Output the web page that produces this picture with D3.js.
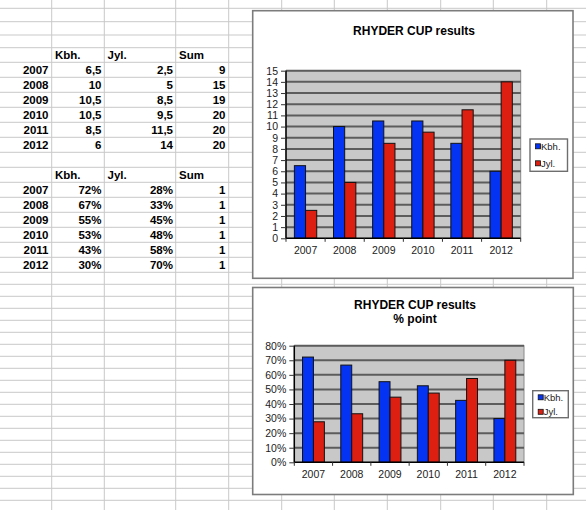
<!DOCTYPE html>
<html>
<head>
<meta charset="utf-8">
<script src="https://cdn.jsdelivr.net/npm/d3@7"></script>
<style>
  body { margin: 0; background: #fff; }
  svg { display: block; font-family: Arial, "Liberation Sans", sans-serif; }
</style>
</head>
<body>
<svg id="sheet" width="586" height="510"></svg>
<script>
// data
const years   = ['2007', '2008', '2009', '2010', '2011', '2012']
const series  = ['Kbh.', 'Jyl.']
const kbh     = [6.5, 10, 10.5, 10.5, 8.5, 6]
const jyl     = [2.5, 5, 8.5, 9.5, 11.5, 14]
const sums    = [9, 15, 19, 20, 20, 20]
const kbhPct  = [72.2, 66.7, 55.3, 52.5, 42.5, 30.0]
const jylPct  = [27.8, 33.3, 44.7, 47.5, 57.5, 70.0]
const pctSums = [1, 1, 1, 1, 1, 1]
const countTicks = d3.range(0, 16)
const pctTicks   = [0, 0.1, 0.2, 0.3, 0.4, 0.5, 0.6, 0.7, 0.8]

const colors = { 'Kbh.': '#0433f4', 'Jyl.': '#dc1f10' }

const svg = d3.select('#sheet')

// spreadsheet grid
const colEdges = [51.7, 104.3, 175.7, 228.7, 281.7, 334.3, 387.3, 440.7, 493.3, 546.7]
let rowEdges = [8.3, 21.7, 35, 47.7]
for (let y = 62.3; y <= 272.4; y += 15) rowEdges.push(y)
for (let y = 284.3; y < 510; y += 12) rowEdges.push(y)

const grid = svg.append('g').attr('stroke', '#c9c9c9').attr('stroke-width', 1)
grid.selectAll('line.h').data(rowEdges).join('line')
    .attr('x1', 0).attr('x2', 586).attr('y1', d => d).attr('y2', d => d)
grid.selectAll('line.v').data(colEdges).join('line')
    .attr('y1', 0).attr('y2', 510).attr('x1', d => d).attr('x2', d => d)

// tables
function drawTable(top, colA, colB, colC, fmt){
    const g = svg.append('g').attr('font-weight', 'bold').attr('font-size', 11.5).attr('fill', '#000')
    const heads = [['Kbh.', 55], ['Jyl.', 107.5], ['Sum', 179]]
    heads.forEach(h => g.append('text').attr('x', h[1]).attr('y', top + 11.6).text(h[0]))

    years.forEach((yr, i) => {
        const base = top + 14.6 + 15 * i + 11.7
        const row = [[yr, 48.5], [fmt(colA[i]), 101.5], [fmt(colB[i]), 173], [colC[i], 225.5]]
        row.forEach(c => g.append('text').attr('x', c[1]).attr('y', base)
            .attr('text-anchor', 'end').text(c[0]))
    })
}
drawTable(47.7, kbh, jyl, sums, v => String(v).replace('.', ','))
drawTable(167.3, kbhPct, jylPct, pctSums, v => Math.round(v) + '%')

// charts
function drawChart(opt){
    const g = svg.append('g')

    g.append('rect')
        .attr('x', opt.frame[0]).attr('y', opt.frame[1])
        .attr('width', opt.frame[2] - opt.frame[0]).attr('height', opt.frame[3] - opt.frame[1])
        .attr('fill', '#fff').attr('stroke', '#7c7c7c').attr('stroke-width', 1.6)

    opt.title.forEach((t, i) => {
        g.append('text').attr('x', opt.titleX).attr('y', opt.titleY + i * 13.3)
            .attr('text-anchor', 'middle').attr('font-weight', 'bold').attr('font-size', 12)
            .text(t)
    })

    const [l, t, r, b] = opt.plot
    const y = d3.scaleLinear().domain(opt.domain).range([b, t])
    const x0 = d3.scaleBand().domain(years).range([l, r])
    const x1 = d3.scaleBand().domain(series).range([0, x0.bandwidth()])
        .paddingInner(0).paddingOuter(0.75)

    g.append('rect').attr('x', l).attr('y', t).attr('width', r - l).attr('height', b - t)
        .attr('fill', '#c8c8c8').attr('stroke', '#8a8a8a').attr('stroke-width', 1)

    g.append('g').selectAll('line').data(opt.ticks.slice(1)).join('line')
        .attr('x1', l).attr('x2', r).attr('y1', d => y(d)).attr('y2', d => y(d))
        .attr('stroke', '#5c5c5c').attr('stroke-width', 2)

    const rows = years.map((yr, i) => ({ yr, vals: [opt.a[i], opt.b[i]] }))
    g.append('g').selectAll('g').data(rows).join('g')
        .attr('transform', d => `translate(${x0(d.yr)},0)`)
        .selectAll('rect').data(d => d.vals.map((v, k) => ({ key: series[k], v })))
        .join('rect')
        .attr('x', d => x1(d.key)).attr('width', x1.bandwidth())
        .attr('y', d => y(d.v)).attr('height', d => b - y(d.v))
        .attr('fill', d => colors[d.key]).attr('stroke', '#111').attr('stroke-width', 1)

    const yAxis = d3.axisLeft(y).tickValues(opt.ticks).tickFormat(opt.fmt)
        .tickSize(5).tickPadding(3)
    const ya = g.append('g').attr('transform', `translate(${l},0)`).call(yAxis)
    ya.select('.domain').attr('stroke', '#000').attr('stroke-width', 1.5).attr('d', `M0,${t}V${b}`)
    ya.selectAll('text').attr('font-size', 10.5).attr('font-family', 'Arial, "Liberation Sans", sans-serif')
        .attr('fill', '#222')
    ya.selectAll('line').attr('stroke', '#333')

    const xAxis = d3.axisBottom(x0).tickSize(0).tickPadding(opt.xPad)
    const xa = g.append('g').attr('transform', `translate(0,${b})`).call(xAxis)
    xa.select('.domain').attr('stroke', '#000').attr('stroke-width', 1.5).attr('d', `M${l},0H${r}`)
    xa.selectAll('text').attr('font-size', 10.5).attr('font-family', 'Arial, "Liberation Sans", sans-serif')
        .attr('fill', '#222')
    g.append('g').selectAll('line').data(years.concat('end')).join('line')
        .attr('x1', d => d === 'end' ? r : x0(d)).attr('x2', d => d === 'end' ? r : x0(d))
        .attr('y1', b).attr('y2', b + 3.5).attr('stroke', '#333')

    // legend
    const [lx, ly, lx2, ly2] = opt.legend
    g.append('rect').attr('x', lx).attr('y', ly).attr('width', lx2 - lx).attr('height', ly2 - ly)
        .attr('fill', '#fff').attr('stroke', '#6e6e6e').attr('stroke-width', 1.4)
    series.forEach((s, i) => {
        const cy = opt.legendY[i]
        g.append('rect').attr('x', lx + 5.5).attr('y', cy - 2.5).attr('width', 5).attr('height', 5)
            .attr('fill', colors[s]).attr('stroke', '#111').attr('stroke-width', 0.8)
        g.append('text').attr('x', lx + 11).attr('y', cy + 3.5).attr('font-size', 9.5)
            .attr('fill', '#222').text(s)
    })
}

drawChart({
    frame: [252.7, 10.7, 573, 278.3],
    title: ['RHYDER CUP results'], titleX: 414, titleY: 34.5,
    plot: [286, 70.7, 520.7, 238.3],
    domain: [0, 15], ticks: countTicks, fmt: d3.format('d'),
    a: kbh, b: jyl, xPad: 8,
    legend: [530, 139, 567.5, 171.3], legendY: [146.3, 163.3]
})

drawChart({
    frame: [252.7, 287.5, 573.3, 494.5],
    title: ['RHYDER CUP results', '% point'], titleX: 415, titleY: 309.2,
    plot: [294.3, 345.7, 524, 462.3],
    domain: [0, 0.8], ticks: pctTicks, fmt: d3.format('.0%'),
    a: kbhPct.map(v => v / 100), b: jylPct.map(v => v / 100), xPad: 8,
    legend: [532.7, 390.7, 568.3, 417.7], legendY: [397.3, 411.8]
})
</script>
</body>
</html>
